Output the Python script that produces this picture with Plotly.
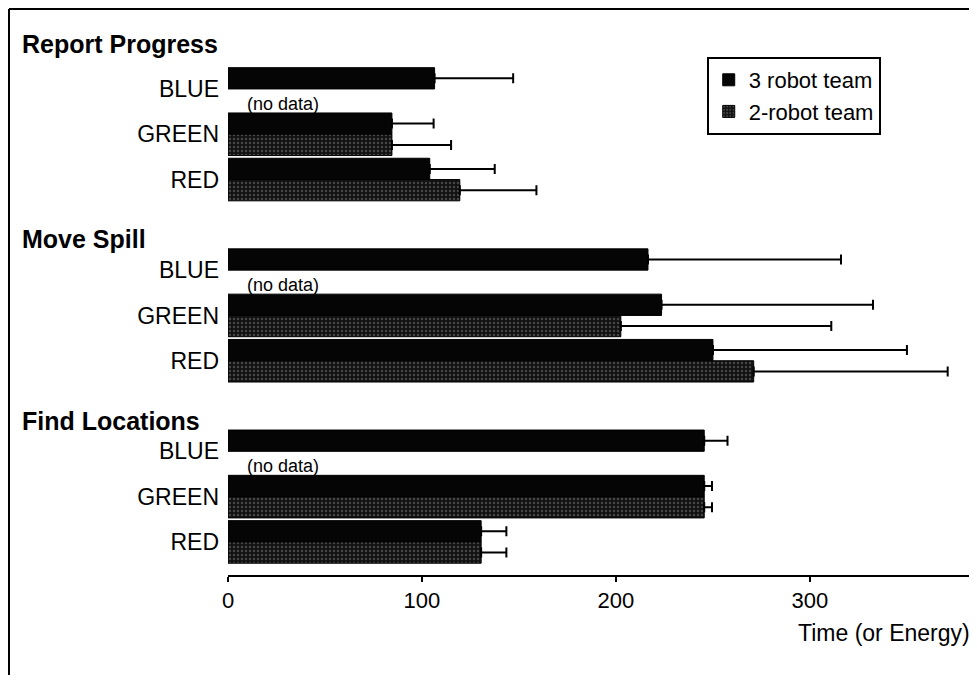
import plotly.graph_objects as go

# tasks (groups) and robot colours (rows inside each group)
tasks = ['Report Progress', 'Move Spill', 'Find Locations']
robots = ['BLUE', 'GREEN', 'RED']

# mean time per task/robot, 3-robot team (flattened task by task)
team3_mean = [106.5, 84.5, 104.0,
              216.5, 223.5, 250.0,
              245.5, 245.5, 130.5]
team3_err = [40.5, 21.5, 33.5,
             99.5, 109.0, 100.0,
             12.0, 4.0, 13.0]

# 2-robot team: BLUE robot not present -> no data
team2_mean = [None, 84.5, 119.5,
              None, 202.5, 271.0,
              None, 245.5, 130.5]
team2_err = [0, 30.5, 39.5,
             0, 108.5, 100.0,
             0, 4.0, 13.0]

xticks = [0, 100, 200, 300]
xlabel = 'Time (or Energy)'
nodata_text = '(no data)'

# y slot for each bar: 4 slots per task (3 robots + spacer)
ypos = [4 * ti + ri for ti in range(len(tasks)) for ri in range(len(robots))]
ylabels = [r for _ in tasks for r in robots]

FONT = 'Liberation Sans, Arial, sans-serif'

fig = go.Figure()
fig.add_trace(go.Bar(
    y=ypos, x=team3_mean, orientation='h', name='3 robot team',
    marker=dict(color='#050505', line=dict(color='black', width=1)),
    error_x=dict(type='data', array=team3_err, arrayminus=[0] * len(team3_err),
                 symmetric=False, color='black', thickness=2, width=5)))
fig.add_trace(go.Bar(
    y=ypos, x=team2_mean, orientation='h', name='2-robot team',
    marker=dict(color='#141414', line=dict(color='black', width=1),
                pattern=dict(shape='.', fgcolor='#7a7a7a', bgcolor='#111111',
                             size=4, solidity=0.3)),
    error_x=dict(type='data', array=team2_err, arrayminus=[0] * len(team2_err),
                 symmetric=False, color='black', thickness=2, width=5)))

# task headings
title_off = [-1.0, -0.69, -0.68]
for ti, t in enumerate(tasks):
    fig.add_annotation(x=-0.2775, xref='paper', xanchor='left',
                       y=4 * ti + title_off[ti], yref='y', yanchor='middle',
                       text='<b>' + t + '</b>', showarrow=False,
                       font=dict(family=FONT, size=25, color='black'))

# "(no data)" under the BLUE bars
for i, v in enumerate(team2_mean):
    if v is None:
        fig.add_annotation(x=0, xref='x', xanchor='left', xshift=17,
                           y=ypos[i] + 0.33, yref='y', yanchor='middle',
                           text=nodata_text, showarrow=False,
                           font=dict(family=FONT, size=18, color='black'))

fig.add_annotation(x=1, xref='paper', xanchor='right', xshift=-4,
                   y=-0.105, yref='paper', yanchor='middle',
                   text=xlabel, showarrow=False,
                   font=dict(family=FONT, size=23, color='black'))

# page frame (top and left edges of the scanned page)
fig.add_shape(type='line', xref='paper', yref='paper',
              x0=-0.2928, x1=1.0, y0=1.0217, y1=1.0217,
              line=dict(color='black', width=2))
fig.add_shape(type='line', xref='paper', yref='paper',
              x0=-0.2928, x1=-0.2928, y0=-0.2, y1=1.0217,
              line=dict(color='black', width=2))

# the page body adds an 8px offset, so the figure is shifted accordingly
fig.update_layout(
    width=969, height=667,
    margin=dict(l=220, r=1, t=13, b=100),
    paper_bgcolor='white', plot_bgcolor='white',
    barmode='group', bargap=0.06, bargroupgap=0,
    font=dict(family=FONT, color='black'),
    legend=dict(x=0.64, y=0.935, xanchor='left', yanchor='top',
                bgcolor='white', bordercolor='black', borderwidth=2,
                font=dict(family=FONT, size=22, color='black'),
                tracegroupgap=0),
    showlegend=True,
)
fig.update_xaxes(range=[0, 385.6], tickvals=xticks, showgrid=False, zeroline=False,
                 showline=True, linecolor='black', linewidth=2,
                 ticks='outside', ticklen=5, tickwidth=2, tickcolor='black',
                 tickfont=dict(family=FONT, size=22, color='black'))
fig.update_yaxes(range=[10.73, -1.5], tickvals=ypos, ticktext=ylabels,
                 showgrid=False, zeroline=False, showline=False, ticks='',
                 ticklabelstandoff=8,
                 tickfont=dict(family=FONT, size=23, color='black'))

fig.write_html('out.html')
